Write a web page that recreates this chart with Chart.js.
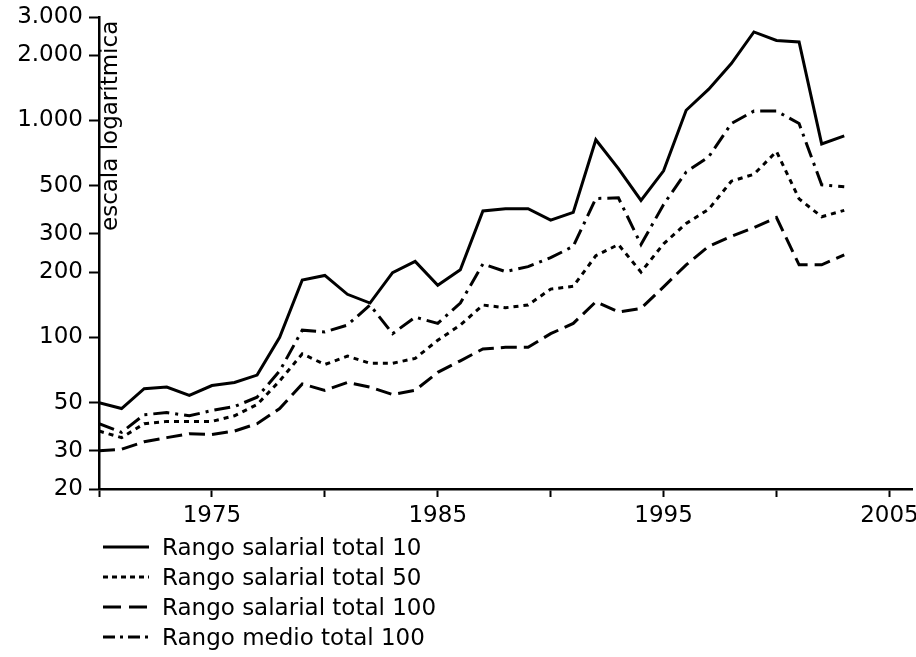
<!DOCTYPE html>
<html>
<head>
<meta charset="utf-8">
<script src="https://cdn.jsdelivr.net/npm/chart.js@4.4.0/dist/chart.umd.min.js"></script>
<style>
  html, body { margin: 0; padding: 0; background: #fff; }
  #wrap { position: relative; width: 916px; height: 657px; }
  #legend { position: absolute; left: 103px; top: 532px; font-family: "DejaVu Sans"; font-size: 23px; color: #000; }
  .row { display: flex; align-items: center; height: 30px; white-space: nowrap; }
  .row svg { width: 46px; height: 10px; margin-right: 13px; }
</style>
</head>
<body>
<div id="wrap">
  <canvas id="lineChart" width="916" height="657"></canvas>
  <div id="legend"></div>
</div>
<script>
// years on the x axis
var years = [1970, 1971, 1972, 1973, 1974, 1975, 1976, 1977, 1978, 1979,
             1980, 1981, 1982, 1983, 1984, 1985, 1986, 1987, 1988, 1989,
             1990, 1991, 1992, 1993, 1994, 1995, 1996, 1997, 1998, 1999,
             2000, 2001, 2002, 2003];

// values (log scale)
var rango10 = [50, 47, 58, 59, 54, 60, 62, 67, 100, 184,
               193, 158, 144, 199, 224, 174, 205, 383, 392, 392,
               347, 377, 815, 600, 428, 586, 1115, 1395, 1830, 2560,
               2340, 2300, 780, 850];
var rango50 = [37, 34.5, 40, 41, 41, 41, 43.5, 49, 63, 84,
               75, 82, 76, 76, 80, 97, 114, 141, 137, 141,
               167, 172, 238, 268, 200, 270, 335, 390, 525, 565,
               720, 435, 360, 385];
var rango100 = [30, 30.5, 33, 34.5, 36, 35.7, 37, 40, 47, 61,
                57, 62, 59, 54.5, 57, 69, 78, 88.5, 90, 90,
                104, 116, 146, 131, 136, 171, 216, 263, 292, 321,
                357, 216, 216, 240];
var medio100 = [40, 36.5, 44, 45, 43.5, 46, 48, 53, 70, 108,
                106, 114, 141, 104, 124, 116, 144, 218, 201, 212,
                233, 263, 437, 440, 268, 410, 579, 680, 968, 1105,
                1105, 968, 505, 495];

var seriesNames = ['Rango salarial total 10', 'Rango salarial total 50',
                   'Rango salarial total 100', 'Rango medio total 100'];
var yTitle = 'escala logarítmica';
var yTicks = [20, 30, 50, 100, 200, 300, 500, 1000, 2000, 3000];
var yTickLabels = ['20', '30', '50', '100', '200', '300', '500', '1.000', '2.000', '3.000'];
var xTicks = [1970, 1975, 1980, 1985, 1990, 1995, 2000, 2005];
var xTickLabels = ['', '1975', '', '1985', '', '1995', '', '2005'];

var ink = '#000';
var dashes = [[], [5, 5], [16, 7], [16, 6, 3, 6]];
var svgDashes = ['', '5,4', '18,8', '12,5,3,5'];

// rotated axis title drawn inside the plot, next to the y axis
var yTitlePlugin = {
    id: 'yTitle',
    afterDraw: function (chart) {
        var ctx = chart.ctx;
        ctx.save();
        ctx.translate(chart.chartArea.left + 12, 231);
        ctx.rotate(-Math.PI / 2);
        ctx.font = '23px "DejaVu Sans"';
        ctx.fillStyle = ink;
        ctx.textBaseline = 'middle';
        ctx.textAlign = 'left';
        ctx.fillText(yTitle, 0, 0);
        ctx.restore();
    }
};

var allSeries = [rango10, rango50, rango100, medio100];
var datasets = allSeries.map(function (values, i) {
    return {
        label: seriesNames[i],
        data: values,
        borderColor: ink,
        borderWidth: 3,
        borderDash: dashes[i],
        borderCapStyle: 'butt',
        pointRadius: 0,
        tension: 0,
        fill: false
    };
});

var ctx = document.getElementById('lineChart').getContext('2d');
var lineChart = new Chart(ctx, {
    type: 'line',
    data: { labels: years, datasets: datasets },
    options: {
        responsive: false,
        animation: false,
        layout: { padding: { left: 0, right: 4, top: 17, bottom: 128 } },
        plugins: { legend: { display: false }, tooltip: { enabled: false } },
        scales: {
            x: {
                type: 'linear',
                min: 1970,
                max: 2006,
                afterBuildTicks: function (scale) {
                    scale.ticks = xTicks.map(function (v) { return { value: v }; });
                },
                afterFit: function (scale) {
                    scale.height = 40;
                    scale.paddingLeft = 0;
                    scale.paddingRight = 0;
                },
                grid: { drawOnChartArea: false, drawTicks: true, tickLength: 8, tickWidth: 2, tickColor: ink },
                border: { display: true, color: ink, width: 2.5 },
                ticks: {
                    autoSkip: false,
                    maxRotation: 0,
                    padding: 5,
                    color: ink,
                    font: { family: 'DejaVu Sans', size: 23 },
                    callback: function (value, index) { return xTickLabels[index]; }
                }
            },
            y: {
                type: 'logarithmic',
                min: 20,
                max: 3000,
                afterBuildTicks: function (scale) {
                    scale.ticks = yTicks.map(function (v) { return { value: v }; });
                },
                afterFit: function (scale) {
                    scale.width = 99;
                    scale.paddingTop = 0;
                    scale.paddingBottom = 0;
                },
                grid: { drawOnChartArea: false, drawTicks: true, tickLength: 10, tickWidth: 2, tickColor: ink },
                border: { display: true, color: ink, width: 2.5 },
                ticks: {
                    autoSkip: false,
                    padding: 6,
                    color: ink,
                    font: { family: 'DejaVu Sans', size: 23 },
                    callback: function (value, index) { return yTickLabels[index]; }
                }
            }
        }
    },
    plugins: [yTitlePlugin]
});

// legend as a vertical list under the axis
var legend = document.getElementById('legend');
seriesNames.forEach(function (name, i) {
    var row = document.createElement('div');
    row.className = 'row';
    var dash = svgDashes[i] ? ' stroke-dasharray="' + svgDashes[i] + '"' : '';
    row.innerHTML = '<svg viewBox="0 0 46 10"><line x1="0" y1="5" x2="46" y2="5" stroke="' + ink +
        '" stroke-width="3"' + dash + '/></svg><span>' + name + '</span>';
    legend.appendChild(row);
});
</script>
</body>
</html>
